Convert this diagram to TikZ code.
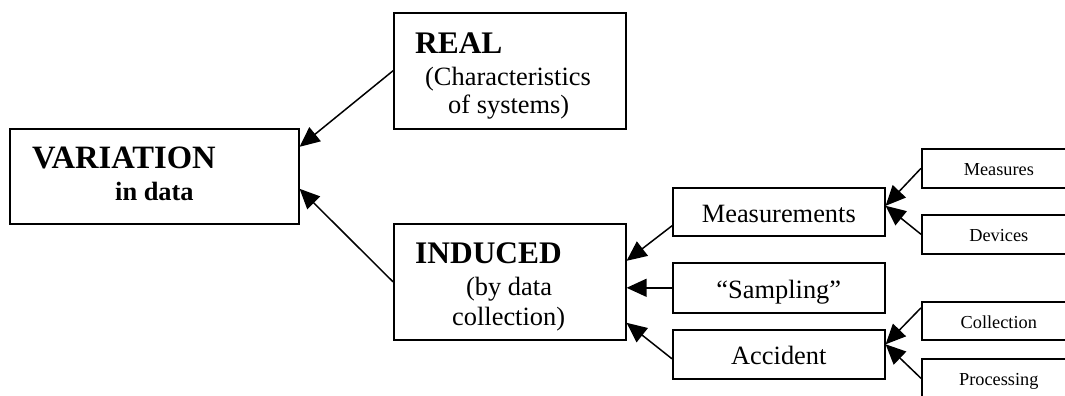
\documentclass[tikz,border=0pt]{standalone}
\usepackage{fontspec}
\setmainfont{Liberation Serif}
\usetikzlibrary{arrows.meta}
\tikzset{
  box/.style={draw, line width=1.6pt, inner sep=0pt, anchor=north west},
  bigtxt/.style={anchor=base west, inner sep=0pt, font=\fontsize{31.4}{36}\selectfont\bfseries},
  subtxt/.style={anchor=base west, inner sep=0pt, font=\fontsize{26.4}{30}\selectfont},
  midbox/.style={box, minimum width=212pt, text height=21pt, text depth=0pt, font=\fontsize{26.4}{30}\selectfont},
  smallbox/.style={box, minimum width=154pt, minimum height=39pt, text height=15pt, text depth=0pt, font=\fontsize{18.3}{22}\selectfont},
  arr/.style={line width=1.5pt, -{Triangle[length=20pt,width=18pt]}},
}
\begin{document}
\begin{tikzpicture}[x=1pt, y=-1pt]
  \useasboundingbox (0,0) rectangle (1065,396);
  \clip (0,0) rectangle (1065,396);

  % main boxes
  \node[box, minimum width=289pt, minimum height=95pt] (var) at (9,128) {};
  \node[box, minimum width=232pt, minimum height=116pt] (real) at (393,12) {};
  \node[box, minimum width=232pt, minimum height=116pt] (ind) at (393,223) {};

  \node[bigtxt, font=\fontsize{32.6}{36}\selectfont\bfseries] (vartitle) at (32,168) {VARIATION};
  \node[bigtxt, font=\fontsize{26.4}{30}\selectfont\bfseries] (varsub) at (115,200) {in data};
  \node[bigtxt] (realtitle) at (415,53) {REAL};
  \node[subtxt] (realsuba) at (425,85) {(Characteristics};
  \node[subtxt] (realsubb) at (448,113) {of systems)};
  \node[bigtxt] (indtitle) at (415,263) {INDUCED};
  \node[subtxt] (indsuba) at (466,295) {(by data};
  \node[subtxt] (indsubb) at (452,325) {collection)};

  % sources of induced variation
  \node[midbox, minimum height=48pt] (meas) at (672,187) {Measurements};
  \node[midbox, minimum height=50pt] (samp) at (672,262) {``Sampling''};
  \node[midbox, minimum height=49pt] (acc) at (672,329) {Accident};

  \node[smallbox] (mes) at (921,148) {Measures};
  \node[smallbox] (dev) at (921,214) {Devices};
  \node[smallbox, minimum height=38pt] (col) at (921,301) {Collection};
  \node[smallbox] (proc) at (921,358) {Processing};

  % arrows
  \draw[arr] (real.west) -- ([yshift=29.5pt]var.east);
  \draw[arr] (ind.west) -- ([yshift=-12.5pt]var.east);
  \draw[arr] ([yshift=-14pt]meas.west) -- ([yshift=21pt]ind.east);
  \draw[arr] (samp.west) -- (samp.west -| ind.east);
  \draw[arr] ([yshift=-4.5pt]acc.west) -- ([yshift=-41pt]ind.east);
  \draw[arr] (mes.west) -- ([yshift=6pt]meas.east);
  \draw[arr] (dev.west) -- ([yshift=6pt]meas.east);
  \draw[arr] ([yshift=13pt]col.west) -- ([yshift=10pt]acc.east);
  \draw[arr] (proc.west) -- ([yshift=10pt]acc.east);
\end{tikzpicture}
\end{document}
